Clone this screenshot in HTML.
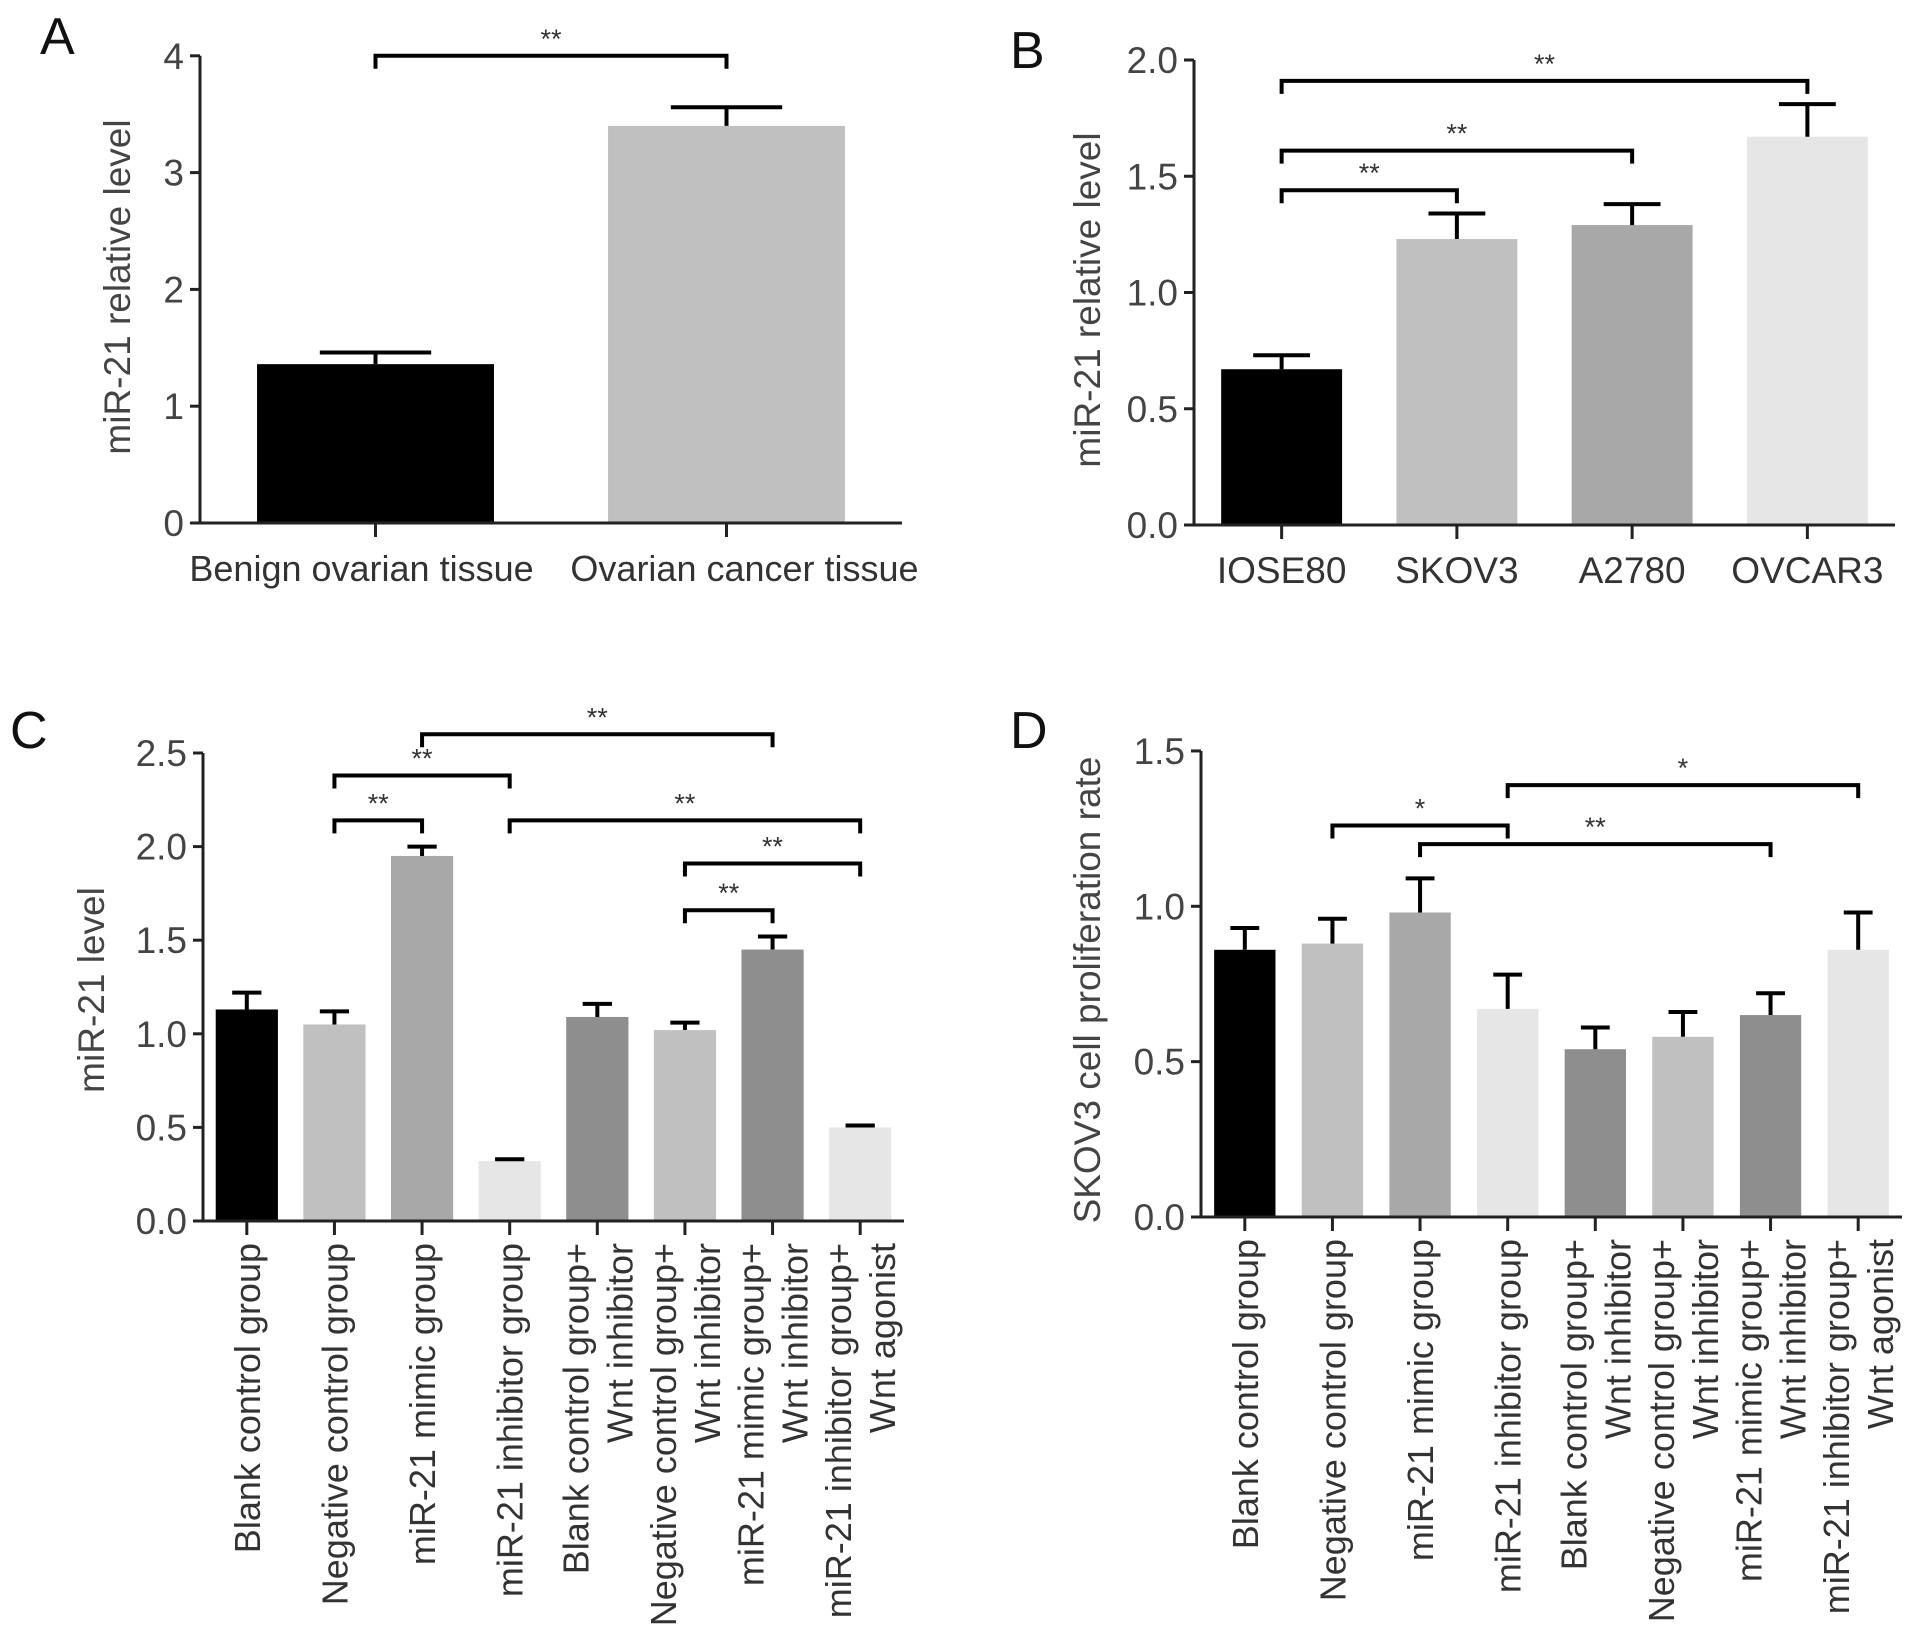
<!DOCTYPE html>
<html><head><meta charset="utf-8">
<style>
html,body{margin:0;padding:0;background:#fff;}
svg{display:block;font-family:"Liberation Sans",Arial,sans-serif;}
</style></head>
<body>
<svg id="fig" width="1913" height="1646" viewBox="0 0 1913 1646" xmlns="http://www.w3.org/2000/svg"></svg>
<script>
// ---- Panel A data ----
const catsA = ["Benign ovarian tissue", "Ovarian cancer tissue"];
const valsA = [1.36, 3.40];
const errsA = [0.10, 0.16];
const ticksA = [0, 1, 2, 3, 4];
const tickLabelsA = ["0", "1", "2", "3", "4"];
// ---- Panel B data ----
const catsB = ["IOSE80", "SKOV3", "A2780", "OVCAR3"];
const valsB = [0.67, 1.23, 1.29, 1.67];
const errsB = [0.06, 0.11, 0.09, 0.14];
const ticksB = [0, 0.5, 1.0, 1.5, 2.0];
const tickLabelsB = ["0.0", "0.5", "1.0", "1.5", "2.0"];
// ---- Panel C/D categories ----
const catsCD = [["Blank control group"], ["Negative control group"], ["miR-21 mimic group"], ["miR-21 inhibitor group"],
  ["Blank control group+", "Wnt inhibitor"], ["Negative control group+", "Wnt inhibitor"],
  ["miR-21 mimic group+", "Wnt inhibitor"], ["miR-21 inhibitor group+", "Wnt agonist"]];
const valsC = [1.13, 1.05, 1.95, 0.32, 1.09, 1.02, 1.45, 0.50];
const errsC = [0.09, 0.07, 0.05, 0.01, 0.07, 0.04, 0.07, 0.01];
const ticksC = [0, 0.5, 1.0, 1.5, 2.0, 2.5];
const tickLabelsC = ["0.0", "0.5", "1.0", "1.5", "2.0", "2.5"];
const valsD = [0.86, 0.88, 0.98, 0.67, 0.54, 0.58, 0.65, 0.86];
const errsD = [0.07, 0.08, 0.11, 0.11, 0.07, 0.08, 0.07, 0.12];
const ticksD = [0, 0.5, 1.0, 1.5];
const tickLabelsD = ["0.0", "0.5", "1.0", "1.5"];
// brackets: [from, to, level value, label]
const bracketsA = [[0, 1, 4.0, "**"]];
const bracketsB = [[0, 3, 1.91, "**"], [0, 2, 1.61, "**"], [0, 1, 1.44, "**"]];
const bracketsC = [[2, 6, 2.60, "**"], [1, 3, 2.38, "**"], [1, 2, 2.14, "**"], [3, 7, 2.14, "**"], [5, 7, 1.91, "**"], [5, 6, 1.66, "**"]];
const bracketsD = [[3, 7, 1.39, "*"], [1, 3, 1.26, "*"], [2, 6, 1.20, "**"]];

const colorsA = ["#000000", "#c0c0c0"];
const colorsB = ["#000000", "#c0c0c0", "#a8a8a8", "#e6e6e6"];
const colorsCD = ["#000000", "#c0c0c0", "#a8a8a8", "#e6e6e6", "#8e8e8e", "#c0c0c0", "#8e8e8e", "#e6e6e6"];

const NS = "http://www.w3.org/2000/svg";
const svg = document.getElementById("fig");
function mk(tag, attrs, parent) {
  const e = document.createElementNS(NS, tag);
  for (const k in attrs) e.setAttribute(k, attrs[k]);
  (parent || svg).appendChild(e);
  return e;
}

function panel(p) {
  const g = mk("g", {});
  
  
  const band = p.w / p.cats.length;
  const xC = i => p.x0 + (i + 0.5) * band;
  const yS = v => p.y0 - v * p.ppu;
  const L = mk("text", {x: p.lx, y: p.ly, "font-size": 52, fill: "#111"}, g);
  L.textContent = p.id;
  
  
  p.vals.forEach((v, i) => {
    const bw = band * p.bf;
    const r = mk("rect", {x: xC(i) - bw / 2, y: yS(v), width: bw, height: p.y0 - yS(v), fill: p.colors[i]}, g);
    
    
    const top = yS(v + p.errs[i]);
    const cw = bw * 0.47;
    const e = mk("path", {d: `M${xC(i)},${yS(v)}V${top}M${xC(i) - cw / 2},${top}H${xC(i) + cw / 2}`, stroke: "#000", "stroke-width": 4, fill: "none"}, g);
    
    
  });
  const ax = mk("path", {d: `M${p.x0},${yS(p.ticks[p.ticks.length - 1])}V${p.y0}H${p.x0 + p.w}`, stroke: "#222", "stroke-width": 3, fill: "none"}, g);
  
  
  p.ticks.forEach((t, k) => {
    mk("line", {x1: p.x0 - 10, x2: p.x0, y1: yS(t), y2: yS(t), stroke: "#222", "stroke-width": 3}, g);
    const tl = mk("text", {x: p.x0 - 16, y: yS(t) + 13, "font-size": 37, fill: "#444", "text-anchor": "end"}, g);
    tl.textContent = p.tickLabels[k];
    
    
  });
  p.cats.forEach((c, i) => {
    mk("line", {x1: xC(i), x2: xC(i), y1: p.y0, y2: p.y0 + 14, stroke: "#222", "stroke-width": 3}, g);
    const lines = Array.isArray(c) ? c : [c];
    lines.forEach((ln, j) => {
      let t;
      if (p.rot) {
        const off = lines.length === 1 ? 0 : (j === 0 ? -22 : 22);
        const tx = xC(i) + off + 13, ty = p.y0 + 22;
        t = mk("text", {x: tx, y: ty, "font-size": 36, fill: "#333", "text-anchor": "end", transform: `rotate(-90 ${tx} ${ty})`}, g);
      } else {
        const dx = p.labelShift ? p.labelShift[i] : 0;
        t = mk("text", {x: xC(i) + dx, y: p.y0 + 58, "font-size": p.catFont || 37, fill: "#333", "text-anchor": "middle"}, g);
      }
      t.textContent = ln;
      
      
    });
  });
  const yt = mk("text", {x: p.ytx, y: p.yty, "font-size": 37, fill: "#444", "text-anchor": "middle", transform: `rotate(-90 ${p.ytx} ${p.yty})`}, g);
  yt.textContent = p.ytitle;
  
  
  p.brackets.forEach(b => {
    const y = yS(b[2]);
    const x1 = xC(b[0]), x2 = xC(b[1]);
    const br = mk("path", {d: `M${x1},${y + 13}V${y}H${x2}V${y + 13}`, stroke: "#000", "stroke-width": 4, fill: "none"}, g);
    
    
    const st = mk("text", {x: (x1 + x2) / 2, y: y - 8, "font-size": 27, fill: "#333", "text-anchor": "middle"}, g);
    st.textContent = b[3];
    
    
  });
}

panel({id: "A", x0: 200, w: 702, y0: 523, ppu: 116.8, cats: catsA, vals: valsA, errs: errsA, colors: colorsA, bf: 0.675,
  ticks: ticksA, tickLabels: tickLabelsA, rot: false, ytitle: "miR-21 relative level", ytx: 130, yty: 287,
  brackets: bracketsA, lx: 40, ly: 54, catFont: 36, labelShift: [-14, 18]});
panel({id: "B", x0: 1194, w: 701, y0: 525, ppu: 232.5, cats: catsB, vals: valsB, errs: errsB, colors: colorsB, bf: 0.69,
  ticks: ticksB, tickLabels: tickLabelsB, rot: false, ytitle: "miR-21 relative level", ytx: 1100, yty: 300,
  brackets: bracketsB, lx: 1010, ly: 68});
panel({id: "C", x0: 203, w: 701, y0: 1221, ppu: 187.2, cats: catsCD, vals: valsC, errs: errsC, colors: colorsCD, bf: 0.71,
  ticks: ticksC, tickLabels: tickLabelsC, rot: true, ytitle: "miR-21 level", ytx: 104, yty: 990,
  brackets: bracketsC, lx: 10, ly: 748});
panel({id: "D", x0: 1201, w: 701, y0: 1217, ppu: 310.7, cats: catsCD, vals: valsD, errs: errsD, colors: colorsCD, bf: 0.70,
  ticks: ticksD, tickLabels: tickLabelsD, rot: true, ytitle: "SKOV3 cell proliferation rate", ytx: 1100, yty: 990,
  brackets: bracketsD, lx: 1010, ly: 748});
</script>
</body></html>
